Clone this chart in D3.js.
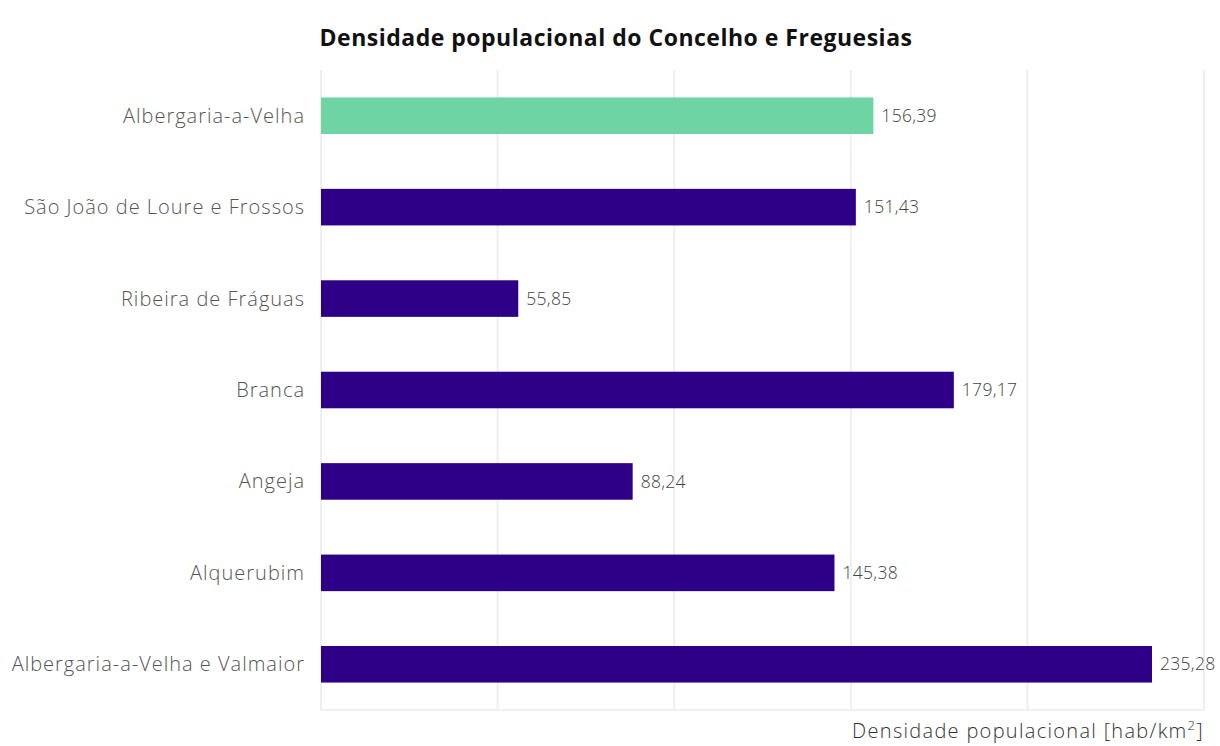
<!DOCTYPE html>
<html>
<head>
<meta charset="utf-8">
<script src="https://cdn.jsdelivr.net/npm/d3@7"></script>
<style>
  html, body { margin: 0; padding: 0; background: #ffffff; }
  svg { display: block; }
</style>
</head>
<body>
<svg id="chart" width="1220" height="746"></svg>
<script>
// Categories (top to bottom) and their population density values
const categories = [
  "Albergaria-a-Velha",
  "São João de Loure e Frossos",
  "Ribeira de Fráguas",
  "Branca",
  "Angeja",
  "Alquerubim",
  "Albergaria-a-Velha e Valmaior"
];
const densidade = [156.39, 151.43, 55.85, 179.17, 88.24, 145.38, 235.28];
const destaque = ["Albergaria-a-Velha"];
const xTicks = [0, 50, 100, 150, 200, 250];

const titulo = "Densidade populacional do Concelho e Freguesias";
const eixoX = "Densidade populacional [hab/km";

const svg = d3.select("#chart");
const m = { left: 321, right: 1204, top: 70, bottom: 710 };
const fmt = v => v.toFixed(2).replace(".", ",");

const x = d3.scaleLinear().domain([0, 250]).range([m.left, m.right]);
const y = d3.scaleBand().domain(categories).range([m.top, m.bottom]).paddingInner(0.6).paddingOuter(0.3);

const font = "'Open Sans', 'Noto Sans', sans-serif";

// vertical gridlines
svg.append("g").selectAll("line").data(xTicks).join("line")
  .attr("x1", d => x(d)).attr("x2", d => x(d))
  .attr("y1", m.top).attr("y2", m.bottom)
  .attr("stroke", "#eeeeee").attr("stroke-width", 2);

// baseline along the bottom
svg.append("line")
  .attr("x1", m.left).attr("x2", m.right)
  .attr("y1", m.bottom).attr("y2", m.bottom)
  .attr("stroke", "#f0f0f0").attr("stroke-width", 2);

const data = categories.map((c, i) => ({ c, v: densidade[i] }));

// bars
svg.append("g").selectAll("rect").data(data).join("rect")
  .attr("x", x(0))
  .attr("y", d => y(d.c))
  .attr("width", d => x(d.v) - x(0))
  .attr("height", y.bandwidth())
  .attr("fill", d => destaque.includes(d.c) ? "#6fd4a3" : "#2e0087");

// value labels
svg.append("g").selectAll("text").data(data).join("text")
  .attr("x", d => x(d.v) + 8)
  .attr("y", d => y(d.c) + y.bandwidth() / 2)
  .attr("dy", "0.35em")
  .attr("font-family", font).attr("font-size", 17.5).attr("font-weight", 300)
  .attr("letter-spacing", 0.3)
  .attr("fill", "#444")
  .text(d => fmt(d.v));

// category labels
svg.append("g").selectAll("text").data(categories).join("text")
  .attr("x", 305)
  .attr("y", d => y(d) + y.bandwidth() / 2)
  .attr("dy", "0.35em")
  .attr("text-anchor", "end")
  .attr("font-family", font).attr("font-size", 20).attr("font-weight", 300)
  .attr("letter-spacing", 1)
  .attr("fill", "#555")
  .text(d => d);

// title
svg.append("text")
  .attr("x", 616).attr("y", 46)
  .attr("text-anchor", "middle")
  .attr("font-family", font).attr("font-size", 23).attr("font-weight", 700)
  .attr("letter-spacing", 0.5)
  .attr("fill", "#111")
  .text(titulo);

// x-axis title
const at = svg.append("text")
  .attr("x", 1204).attr("y", 738)
  .attr("text-anchor", "end")
  .attr("font-family", font).attr("font-size", 20).attr("font-weight", 300)
  .attr("letter-spacing", 1.3)
  .attr("fill", "#333");
at.append("tspan").text(eixoX);
at.append("tspan").attr("font-size", 13).attr("dy", -8).text("2");
at.append("tspan").attr("dy", 8).text("]");
</script>
</body>
</html>
